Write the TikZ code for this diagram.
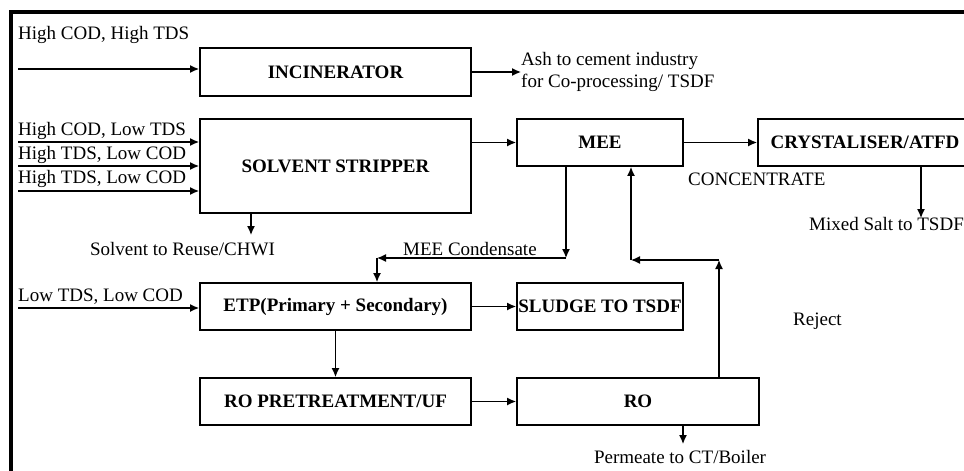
\documentclass[tikz,border=0pt]{standalone}
\usepackage{fontspec}
\setmainfont{Liberation Serif}
\usetikzlibrary{arrows.meta}

\newcommand{\dfont}{\fontsize{19}{22.5}\selectfont}

\tikzset{
  unit/.style={draw, line width=1.8pt, inner sep=0pt, font=\dfont\bfseries},
  txt/.style={inner sep=0pt},
  flow/.style={-{Latex[length=9pt,width=8pt]}, line width=1.3pt}
}

\begin{document}
\begin{tikzpicture}[x=1pt, y=-1pt, font=\dfont]
\useasboundingbox (0,0) rectangle (964,471);
\draw[line width=4pt] (11,475) -- (11,12) -- (968,12);

% units
\node[unit, minimum width=271pt, minimum height=48pt] (inc) at (335.5,72) {INCINERATOR};
\node[unit, minimum width=271pt, minimum height=94pt] (ss) at (335.5,166) {SOLVENT STRIPPER};
\node[unit, minimum width=166pt, minimum height=47pt] (mee) at (600,142.5) {MEE};
\node[unit, minimum width=214pt, minimum height=47pt] (cry) at (865,142.5) {CRYSTALISER/ATFD};
\node[unit, minimum width=271pt, minimum height=47pt] (etp) at (335.5,306.5) {ETP(Primary + Secondary)};
\node[unit, minimum width=166pt, minimum height=47pt] (sl) at (600,306.5) {SLUDGE TO TSDF};
\node[unit, minimum width=271pt, minimum height=47pt] (pre) at (335.5,401.5) {RO PRETREATMENT/UF};
\node[unit, minimum width=242pt, minimum height=47pt] (ro) at (638,401.5) {RO};

% texts
\node[txt, anchor=west] (t1) at (18,35) {High COD, High TDS};
\node[txt, anchor=west] (t2) at (18,131) {High COD, Low TDS};
\node[txt, anchor=west] (t3) at (18,155) {High TDS, Low COD};
\node[txt, anchor=west] (t4) at (18,179) {High TDS, Low COD};
\node[txt, anchor=west] (t5) at (18,297) {Low TDS, Low COD};
\node[txt, anchor=west, align=left] (ash) at (521,72) {Ash to cement industry\\for Co-processing/ TSDF};
\node[txt, anchor=west] (conc) at (688,179) {CONCENTRATE};
\node[txt, anchor=east] (salt) at (964,224) {Mixed Salt to TSDF};
\node[txt] (solv) at (182.5,249) {Solvent to Reuse/CHWI};
\node[txt, anchor=west] (cond) at (403,249) {MEE Condensate};
\node[txt, anchor=west] (rej) at (793,321) {Reject};
\node[txt] (perm) at (680,457) {Permeate to CT/Boiler};

% feed lines
\coordinate (f1) at (18,69);
\coordinate (f2) at (18,142);
\coordinate (f3) at (18,166);
\coordinate (f4) at (18,191);
\coordinate (f5) at (18,308);
\draw[flow] (f1) -- (f1 -| inc.west);
\draw[flow] (f2) -- (f2 -| ss.west);
\draw[flow] (f3) -- (f3 -| ss.west);
\draw[flow] (f4) -- (f4 -| ss.west);
\draw[flow] (f5) -- (f5 -| etp.west);

% main flows
\draw[flow] (inc.east) -- (ash.west);
\draw[flow] (ss.east |- mee.west) -- (mee.west);
\draw[flow] (mee.east) -- (cry.west);
\draw[flow] (etp.east) -- (sl.west);
\draw[flow] (pre.east) -- (ro.west);
\draw[flow] (etp.south) -- (pre.north);

% outlets
\coordinate (s1) at (251,235);
\draw[flow] (s1 |- ss.south) -- (s1);
\coordinate (c1) at (921,218);
\draw[flow] (c1 |- cry.south) -- (c1);
\coordinate (p1) at (683,444);
\draw[flow] (p1 |- ro.south) -- (p1);

% condensate return
\coordinate (m1) at (566,258);
\coordinate (m2) at (377,258);
\draw[flow] (m1 |- mee.south) -- (m1);
\draw[flow] (m1) -- (m2);
\draw[flow] (m2) -- (m2 |- etp.north);

% reject to MEE
\coordinate (r1) at (719,260);
\coordinate (r2) at (631,260);
\draw[flow] (r1 |- ro.north) -- (r1);
\draw[flow] (r1) -- (r2);
\draw[flow] (r2) -- (r2 |- mee.south);
\end{tikzpicture}
\end{document}
